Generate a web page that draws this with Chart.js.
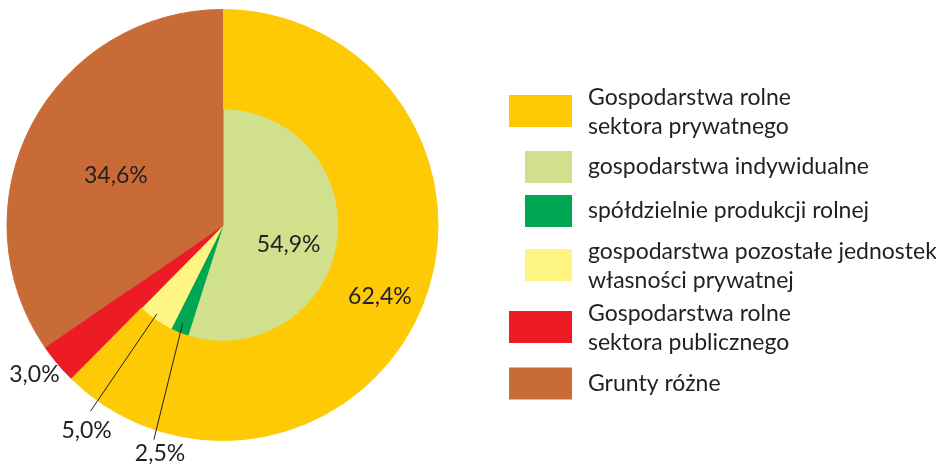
<!DOCTYPE html>
<html>
<head>
<meta charset="utf-8">
<script src="https://cdn.jsdelivr.net/npm/chart.js@4"></script>
<style>
  html, body { margin: 0; padding: 0; background: #fff; }
  #wrap { width: 936px; height: 468px; }
</style>
</head>
<body>
<div id="wrap"><canvas id="landChart" width="936" height="468"></canvas></div>
<script>
// outer ring: main land groups
const outerLabels = ["Gospodarstwa rolne sektora prywatnego", "Gospodarstwa rolne sektora publicznego", "Grunty różne"];
const outerValues = [62.4, 3.0, 34.6];
const outerColors = ["#FECA05", "#ED1C24", "#C96B37"];

// inner pie: private sector split, rest repeated so it reaches the centre
const innerLabels = ["gospodarstwa indywidualne", "spółdzielnie produkcji rolnej", "gospodarstwa pozostałe jednostek własności prywatnej", "Gospodarstwa rolne sektora publicznego", "Grunty różne"];
const innerValues = [54.9, 2.5, 5.0, 3.0, 34.6];
const innerColors = ["#D1E08C", "#00A651", "#FFF582", "#ED1C24", "#C96B37"];

const pctText = ["62,4%", "54,9%", "34,6%", "3,0%", "5,0%", "2,5%"];

const legendItems = [
    { lines: ["Gospodarstwa rolne", "sektora prywatnego"], color: outerColors[0], sub: false },
    { lines: ["gospodarstwa indywidualne"], color: innerColors[0], sub: true },
    { lines: ["spółdzielnie produkcji rolnej"], color: innerColors[1], sub: true },
    { lines: ["gospodarstwa pozostałe jednostek", "własności prywatnej"], color: innerColors[2], sub: true },
    { lines: ["Gospodarstwa rolne", "sektora publicznego"], color: outerColors[1], sub: false },
    { lines: ["Grunty różne"], color: outerColors[2], sub: false },
];

const FONT = "23px Lato, 'Open Sans', sans-serif";
const TEXT = "#231F20";

// where each percentage goes: dataset, slice, radius rule, angle shift (deg), optional leader
const pctPlace = [
    { ds: 0, i: 0, r: a => a.innerRadius + 0.565 * (a.outerRadius - a.innerRadius), da: 1.7 },
    { ds: 1, i: 0, r: a => 0.59 * a.outerRadius, da: 6.6 },
    { ds: 0, i: 2, r: a => 0.547 * a.outerRadius, da: -2.5 },
    { ds: 0, i: 1, r: a => a.outerRadius + 24, da: 1.7 },
    { ds: 1, i: 2, r: a => a.outerRadius + 129, da: -2.0,
      line: { r0: a => a.outerRadius - 5.5, da0: 0.8, r1: a => a.outerRadius + 112, da1: -0.3 } },
    { ds: 1, i: 1, r: a => a.outerRadius + 120, da: -6.8,
      line: { r0: a => a.outerRadius - 10, da0: -0.1, r1: a => a.outerRadius + 109, da1: -4.4 } },
];

function polar(a, r, daDeg) {
    const ang = (a.startAngle + a.endAngle) / 2 + daDeg * Math.PI / 180;
    return { x: a.x + r * Math.cos(ang), y: a.y + r * Math.sin(ang) };
}

const labelPlugin = {
    id: "pctLabels",
    afterDatasetsDraw(chart) {
        const ctx = chart.ctx;
        ctx.save();
        ctx.font = FONT;
        ctx.fillStyle = TEXT;
        ctx.strokeStyle = TEXT;
        ctx.lineWidth = 1;
        ctx.textAlign = "center";
        ctx.textBaseline = "middle";
        pctPlace.forEach((p, k) => {
            const a = chart.getDatasetMeta(p.ds).data[p.i];
            if (p.line) {
                const s = polar(a, p.line.r0(a), p.line.da0);
                const e = polar(a, p.line.r1(a), p.line.da1);
                ctx.beginPath();
                ctx.moveTo(s.x, s.y);
                ctx.lineTo(e.x, e.y);
                ctx.stroke();
            }
            const pt = polar(a, p.r(a), p.da);
            ctx.fillText(pctText[k], pt.x, pt.y + 1);
        });
        ctx.restore();
    },
};

const legendPlugin = {
    id: "sideLegend",
    afterDraw(chart) {
        const ctx = chart.ctx;
        const rowCenters = [111, 167, 211, 265, 327, 383.5];
        ctx.save();
        ctx.font = FONT;
        ctx.fillStyle = TEXT;
        ctx.textAlign = "left";
        ctx.textBaseline = "alphabetic";
        legendItems.forEach((it, k) => {
            const cy = rowCenters[k];
            const x0 = it.sub ? 525 : 509;
            ctx.fillStyle = it.color;
            ctx.fillRect(x0, cy - 16, 572 - x0, 32);
            ctx.fillStyle = TEXT;
            if (it.lines.length === 2) {
                ctx.fillText(it.lines[0], 588, cy - 6);
                ctx.fillText(it.lines[1], 588, cy + 23);
            } else {
                ctx.fillText(it.lines[0], 588, cy + 7);
            }
        });
        ctx.restore();
    },
};

new Chart(document.getElementById("landChart"), {
    type: "doughnut",
    data: {
        labels: innerLabels,
        datasets: [
            {
                label: "grupy",
                data: outerValues,
                backgroundColor: outerColors,
                borderColor: outerColors,
                borderWidth: 1,
                weight: 99,
            },
            {
                label: "sektor prywatny",
                data: innerValues,
                backgroundColor: innerColors,
                borderColor: innerColors,
                borderWidth: 2,
                weight: 116,
            },
        ],
    },
    options: {
        responsive: false,
        animation: false,
        cutout: 0,
        layout: { padding: { left: 6.5, right: 497.5, top: 9, bottom: 27 } },
        plugins: {
            legend: { display: false },
            tooltip: { enabled: false },
            title: { display: false },
        },
    },
    plugins: [labelPlugin, legendPlugin],
});
</script>
</body>
</html>
